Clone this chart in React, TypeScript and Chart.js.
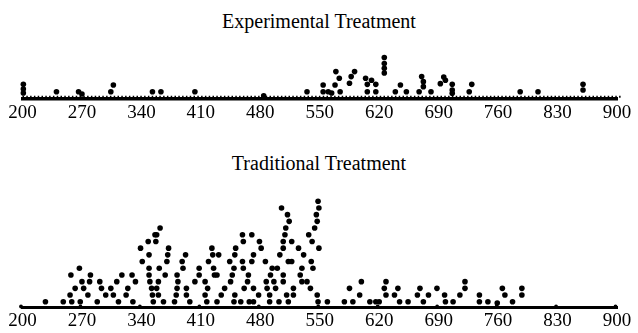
import React, { useEffect, useRef } from "react";
import { Chart, registerables } from "chart.js";

Chart.register(...registerables);

// x-axis tick labels (both panels)
const tickValues = [200, 270, 340, 410, 480, 550, 620, 690, 760, 830, 900];

// Experimental Treatment: value and stacked/jittered dot height (levels)
const expX = [201, 201, 201, 240, 266, 270, 307, 304, 353, 363, 403, 484, 535, 554, 554, 560, 564, 569, 573, 568, 574, 585, 587, 591, 604, 606, 611, 616, 606, 616, 626, 626, 626, 626, 639, 645, 652, 667, 670, 672, 672, 681, 692, 696, 698, 706, 706, 706, 729, 726, 786, 807, 860, 860];
const expY = [2.1, 1.4, 0.8, 1, 1, 0.65, 2, 1, 1, 1, 1, 0.4, 1, 2, 1, 1, 0.8, 4, 3, 2, 1, 2.25, 3.25, 4, 3, 2.1, 2.7, 2.1, 1, 1, 6.1, 5.2, 4.5, 3.8, 1, 2, 1, 1, 3.25, 2.5, 1.75, 1, 2.2, 3.2, 2.7, 2.1, 1.25, 0.75, 2.1, 1, 1, 1, 2.1, 1.25];

// Traditional Treatment
const tradX = [227, 248, 256, 258, 262, 257, 267, 270, 268, 272, 277, 280, 279, 288, 291, 293, 298, 304, 307, 311, 313, 317, 322, 324, 329, 330, 333, 339, 341, 348, 349, 349, 349, 350, 352, 353, 354, 356, 358, 357, 362, 361, 360, 358, 360, 366, 368, 370, 371, 372, 379, 382, 383, 382, 381, 388, 389, 392, 393, 393, 397, 403, 408, 408, 415, 415, 417, 418, 419, 423, 424, 425, 426, 429, 431, 429, 434, 438, 444, 445, 447, 449, 450, 451, 449, 450, 457, 459, 460, 459, 460, 461, 466, 465, 470, 472, 470, 472, 472, 467, 478, 479, 481, 486, 488, 487, 491, 491, 492, 494, 496, 498, 500, 502, 503, 505, 507, 507, 507, 507, 509, 510, 512, 514, 511, 513, 513, 517, 517, 519, 519, 527, 529, 525, 531, 529, 535, 537, 539, 541, 542, 540, 546, 547, 544, 548, 549, 549, 547, 548, 559, 579, 585, 589, 597, 599, 609, 616, 620, 626, 628, 628, 638, 642, 644, 654, 665, 668, 672, 678, 688, 697, 698, 707, 715, 721, 721, 738, 738, 748, 759, 765, 768, 777, 788, 788];
const tradY = [1, 1, 2, 1, 3, 5, 6, 4, 1, 3, 2, 5, 4, 1, 4, 3, 2, 3, 2, 4, 1, 5, 2, 3, 5, 1, 4, 9, 7, 10, 8, 6, 5, 4, 3, 2, 1, 11, 11, 10, 12, 6, 4, 3, 2, 1, 5, 7, 8, 9, 1, 5, 4, 3, 2, 7, 6, 8, 3, 2, 1, 4, 5, 6, 4, 2, 1, 3, 7, 9, 8, 6, 5, 5, 8, 1, 2, 3, 7, 4, 5, 1, 8, 9, 6, 2, 1, 11, 10, 7, 6, 3, 5, 4, 11, 8, 7, 3, 1, 1, 2, 10, 9, 7, 3, 4, 2, 1, 5, 6, 4, 3, 6, 1, 8, 15, 5, 4, 10, 9, 11, 12, 14, 13, 2, 1, 7, 7, 10, 3, 2, 5, 4, 9, 8, 6, 4, 11, 3, 10, 6, 7, 14, 13, 12, 16, 15, 9, 2, 1, 1, 1, 3, 1, 2, 4, 1, 1, 1, 3, 4, 2, 2, 3, 1, 1, 2, 3, 1, 2, 3, 2, 1, 1, 2, 4, 3, 2, 1, 1, 0.8, 3, 2, 1, 3, 2];

const FONT = "'Liberation Serif', 'Times New Roman', serif";

const axisDecor = {
  id: "axisDecor",
  afterDraw(chart: any, _args: any, opts: any) {
    const { ctx, chartArea, scales } = chart;
    const xs = scales.x;
    ctx.save();
    ctx.fillStyle = "#000";
    ctx.strokeStyle = "#000";
    if (opts.dotted) {
      ctx.lineWidth = 2;
      ctx.setLineDash([1.5, 2.3]);
      ctx.beginPath();
      ctx.moveTo(chartArea.left, chartArea.bottom - 2.2);
      ctx.lineTo(chartArea.right + 4, chartArea.bottom - 2.2);
      ctx.stroke();
      ctx.setLineDash([]);
    }
    if (opts.tickDots) {
      for (const v of tickValues) {
        const px = xs.getPixelForValue(v) - 1.5;
        ctx.beginPath();
        ctx.arc(px, chartArea.bottom - 0.5, 1.9, 0, Math.PI * 2);
        ctx.fill();
      }
    }
    ctx.restore();
  },
};

function makeConfig(xsArr: number[], ysArr: number[], yMin: number, yMax: number, padTop: number, dotted: boolean, tickDots: boolean, borderW: number): any {
  return {
    type: "scatter",
    data: {
      datasets: [
        {
          data: xsArr.map((x, i) => ({ x, y: ysArr[i] })),
          pointRadius: 2.8,
          pointHoverRadius: 2.8,
          pointBackgroundColor: "#000",
          pointBorderWidth: 0,
          pointBorderColor: "#000",
          clip: false,
        },
      ],
    },
    options: {
      animation: false,
      responsive: false,
      events: [],
      layout: { padding: { left: 22.5, right: 21, top: padTop, bottom: 1 } },
      plugins: {
        legend: { display: false },
        tooltip: { enabled: false },
        title: { display: false },
        axisDecor: { dotted, tickDots },
      },
      scales: {
        x: {
          type: "linear",
          min: 200,
          max: 900,
          afterBuildTicks: (s: any) => {
            s.ticks = tickValues.map((v) => ({ value: v }));
          },
          afterFit: (s: any) => {
            s.height = 25;
          },
          ticks: {
            autoSkip: false,
            maxRotation: 0,
            color: "#000",
            padding: 2.5,
            font: { family: FONT, size: 19 },
            callback: (v: any) => String(v),
          },
          grid: { display: true, drawOnChartArea: false, drawTicks: false, color: "rgba(0,0,0,0)" },
          border: { display: true, color: "#000", width: borderW },
        },
        y: { display: false, min: yMin, max: yMax },
      },
    },
    plugins: [axisDecor],
  };
}

function Panel({ top, height, cfg }: { top: number; height: number; cfg: any }) {
  const ref = useRef<HTMLCanvasElement | null>(null);
  useEffect(() => {
    if (!ref.current) return;
    const chart = new Chart(ref.current, cfg);
    return () => chart.destroy();
  }, []);
  return (
    <canvas
      ref={ref}
      width={638}
      height={height}
      style={{ position: "absolute", left: 0, top, width: 638, height, display: "block" }}
    />
  );
}

const titleStyle: React.CSSProperties = {
  position: "absolute",
  left: 0,
  width: 638,
  textAlign: "center",
  fontFamily: FONT,
  fontSize: 20,
  lineHeight: "23px",
  color: "#000",
  margin: 0,
};

export default function App() {
  const topCfg = makeConfig(expX, expY, -0.09, 7, 51.5, true, false, 3.5);
  const botCfg = makeConfig(tradX, tradY, 0.22, 17.5, 11.2, false, true, 3);
  return (
    <div style={{ position: "absolute", left: 0, top: 0, width: 638, height: 333, background: "#fff", overflow: "hidden" }}>
      <div style={{ ...titleStyle, top: 10 }}>Experimental Treatment</div>
      <div style={{ ...titleStyle, top: 152 }}>Traditional Treatment</div>
      <Panel top={0} height={125} cfg={topCfg} />
      <Panel top={180} height={153} cfg={botCfg} />
    </div>
  );
}
